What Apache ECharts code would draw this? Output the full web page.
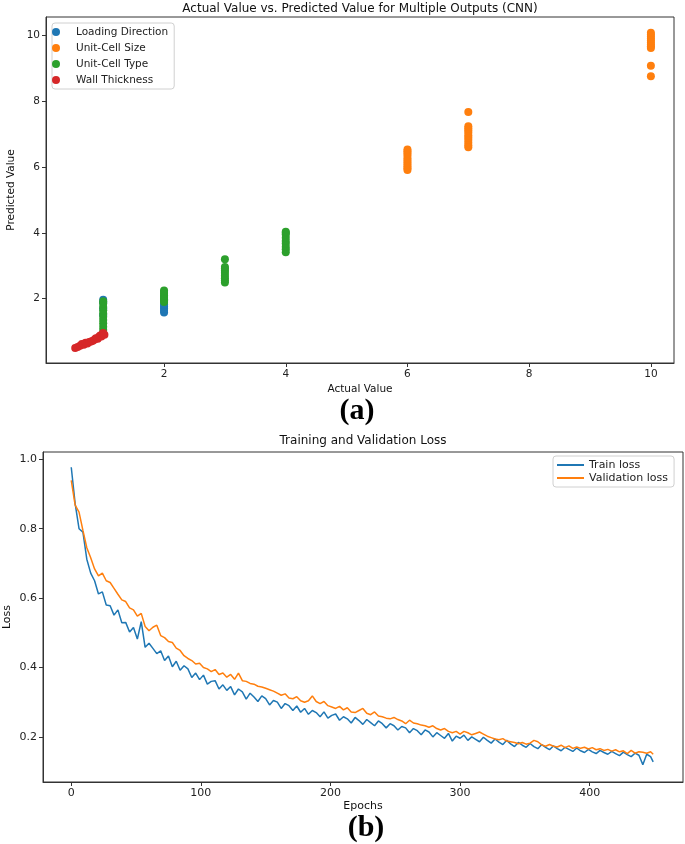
<!DOCTYPE html>
<html>
<head>
<meta charset="utf-8">
<script src="https://cdn.jsdelivr.net/npm/echarts@6/dist/echarts.min.js"></script>
<style>
html,body{margin:0;padding:0;background:#fff;}
#chart{width:685px;height:844px;}
</style>
</head>
<body>
<div id="chart"></div>
<script>
// ---------- Panel (a): scatter data [actual, predicted] ----------
const loadingDirection = [[1,1.97],[1,1.88],[1,1.70],[1,1.50],[2,1.58],[2,1.63],[2,1.70],[2,1.76],[2,1.82],[2,1.90],[2,1.98]];
const unitCellSize = [
  [6,5.91],[6,5.96],[6,6.02],[6,6.08],[6,6.14],[6,6.20],[6,6.27],[6,6.35],[6,6.42],[6,6.48],[6,6.53],
  [7,6.60],[7,6.66],[7,6.74],[7,6.82],[7,6.90],[7,6.97],[7,7.05],[7,7.12],[7,7.18],[7,7.24],[7,7.67],
  [10,8.76],[10,9.08],[10,9.62],[10,9.67],[10,9.72],[10,9.78],[10,9.84],[10,9.90],[10,9.96],[10,10.02],[10,10.08]
];
const unitCellType = [
  [1,0.95],[1,1.05],[1,1.15],[1,1.25],[1,1.35],[1,1.45],[1,1.55],[1,1.65],[1,1.75],[1,1.85],[1,1.92],
  [2,1.90],[2,1.95],[2,2.00],[2,2.05],[2,2.10],[2,2.15],[2,2.20],[2,2.25],
  [3,2.49],[3,2.55],[3,2.62],[3,2.70],[3,2.78],[3,2.85],[3,2.92],[3,2.96],[3,3.20],
  [4,3.41],[4,3.50],[4,3.58],[4,3.68],[4,3.75],[4,3.85],[4,3.95],[4,4.00],[4,4.03]
];
const wallThickness = [
  [0.54,0.50],[0.58,0.53],[0.62,0.57],[0.65,0.62],[0.68,0.60],[0.71,0.66],[0.74,0.64],[0.77,0.68],
  [0.80,0.70],[0.83,0.72],[0.86,0.76],[0.88,0.80],[0.91,0.78],[0.93,0.84],[0.95,0.88],[0.97,0.85],
  [0.99,0.92],[1.00,0.96],[1.02,0.90]
];
const scatterTicks = [2,4,6,8,10];

// ---------- Panel (b): loss curves, sampled every 3 epochs (last = epoch 449) ----------
const trainLoss = [
0.977,0.872,0.800,0.790,0.712,0.672,0.650,0.612,0.618,0.580,
0.578,0.551,0.566,0.529,0.530,0.502,0.515,0.482,0.532,0.458,
0.470,0.455,0.440,0.448,0.420,0.433,0.402,0.418,0.392,0.405,
0.396,0.371,0.384,0.365,0.378,0.352,0.360,0.362,0.338,0.350,
0.334,0.345,0.321,0.338,0.330,0.309,0.326,0.315,0.302,0.318,
0.310,0.292,0.305,0.300,0.282,0.296,0.290,0.276,0.289,0.271,
0.282,0.265,0.276,0.270,0.258,0.272,0.254,0.262,0.266,0.248,
0.258,0.252,0.240,0.256,0.247,0.236,0.250,0.241,0.232,0.246,
0.238,0.226,0.238,0.232,0.220,0.230,0.226,0.212,0.224,0.218,
0.206,0.220,0.214,0.200,0.212,0.204,0.196,0.210,0.188,0.202,
0.196,0.205,0.190,0.200,0.193,0.186,0.199,0.190,0.182,0.194,
0.185,0.178,0.190,0.180,0.172,0.184,0.176,0.170,0.181,0.172,
0.166,0.178,0.170,0.163,0.174,0.166,0.160,0.170,0.164,0.158,
0.168,0.160,0.155,0.164,0.157,0.152,0.161,0.155,0.150,0.158,
0.152,0.146,0.156,0.149,0.143,0.153,0.147,0.120,0.150,0.143,
0.128
];
const valLoss = [
0.939,0.868,0.848,0.795,0.745,0.716,0.684,0.664,0.672,0.650,
0.645,0.628,0.611,0.595,0.590,0.572,0.566,0.548,0.556,0.518,
0.506,0.516,0.522,0.492,0.486,0.475,0.472,0.456,0.449,0.434,
0.426,0.420,0.410,0.412,0.400,0.396,0.388,0.394,0.380,0.384,
0.372,0.380,0.366,0.384,0.362,0.360,0.354,0.352,0.346,0.344,
0.340,0.336,0.332,0.326,0.320,0.324,0.312,0.310,0.316,0.304,
0.300,0.304,0.318,0.302,0.296,0.302,0.290,0.286,0.282,0.288,
0.278,0.284,0.272,0.270,0.276,0.282,0.268,0.264,0.272,0.260,
0.258,0.254,0.252,0.256,0.250,0.246,0.238,0.248,0.240,0.238,
0.234,0.232,0.228,0.232,0.224,0.220,0.224,0.216,0.212,0.216,
0.208,0.216,0.212,0.206,0.210,0.214,0.208,0.202,0.198,0.194,
0.192,0.195,0.188,0.186,0.184,0.180,0.184,0.179,0.182,0.190,
0.186,0.177,0.173,0.178,0.173,0.171,0.176,0.169,0.174,0.167,
0.171,0.167,0.170,0.165,0.169,0.163,0.166,0.161,0.164,0.159,
0.163,0.157,0.160,0.152,0.161,0.153,0.157,0.156,0.153,0.157,
0.150
];
const epochs = trainLoss.map((_, i) => Math.min(i * 3, 449));
const epochTicks = [0,100,200,300,400];
const lossTicks = [0.2,0.4,0.6,0.8,1.0];

const FONT = '"DejaVu Sans", sans-serif';
const AX = '#333';
const C = ['#1f77b4','#ff7f0e','#2ca02c','#d62728'];

function axisCommon(ticks, fmt, fs) {
  return {
    axisLine: {show: true, onZero: false, lineStyle: {color: AX, width: 1}},
    axisTick: {show: true, inside: false, length: 4, lineStyle: {color: AX}, customValues: ticks},
    axisLabel: {show: true, customValues: ticks, color: '#222', fontFamily: FONT, fontSize: fs, margin: 6, formatter: fmt},
    splitLine: {show: false}
  };
}

const chart = echarts.init(document.getElementById('chart'), null, {renderer: 'canvas'});
const scatterNames = ['Loading Direction','Unit-Cell Size','Unit-Cell Type','Wall Thickness'];
const scatterData = [loadingDirection, unitCellSize, unitCellType, wallThickness];

const option = {
  animation: false,
  backgroundColor: '#fff',
  grid: [
    {left: 46, top: 17, width: 628, height: 346, show: true, borderColor: AX, borderWidth: 1, backgroundColor: 'transparent'},
    {left: 43, top: 452, width: 640, height: 330, show: true, borderColor: AX, borderWidth: 1, backgroundColor: 'transparent'}
  ],
  xAxis: [
    Object.assign({type: 'value', gridIndex: 0, min: 0.06, max: 10.38}, axisCommon(scatterTicks, v => String(v), 10.5)),
    Object.assign({type: 'value', gridIndex: 1, min: -21.8, max: 472}, axisCommon(epochTicks, v => String(v), 11))
  ],
  yAxis: [
    Object.assign({type: 'value', gridIndex: 0, min: 0.045, max: 10.56}, axisCommon(scatterTicks, v => String(v), 10.5)),
    Object.assign({type: 'value', gridIndex: 1, min: 0.070, max: 1.021}, axisCommon(lossTicks, v => v.toFixed(1), 11))
  ],
  legend: [
    {
      data: scatterNames, orient: 'vertical', left: 52, top: 23,
      padding: [3, 6, 3, 0], itemWidth: 30, itemHeight: 8, itemGap: 4,
      borderColor: '#d0d0d0', borderWidth: 1, borderRadius: 3, backgroundColor: '#fff',
      textStyle: {fontFamily: FONT, fontSize: 10.5, color: '#222', lineHeight: 12},
      selectedMode: false
    },
    {
      data: ['Train loss','Validation loss'], orient: 'vertical', left: 553, top: 456,
      padding: [3, 6, 3, 4], itemWidth: 27, itemHeight: 2, itemGap: 1, icon: 'rect',
      borderColor: '#d0d0d0', borderWidth: 1, borderRadius: 3, backgroundColor: '#fff',
      textStyle: {fontFamily: FONT, fontSize: 11, color: '#222', lineHeight: 12},
      selectedMode: false
    }
  ],
  series: scatterData.map((d, i) => ({
    name: scatterNames[i], type: 'scatter', xAxisIndex: 0, yAxisIndex: 0,
    data: d, symbol: 'circle', symbolSize: 8,
    itemStyle: {color: C[i], opacity: 1}
  })).concat([
    {
      name: 'Train loss', type: 'line', xAxisIndex: 1, yAxisIndex: 1,
      data: epochs.map((e, i) => [e, trainLoss[i]]), symbol: 'none', smooth: false,
      lineStyle: {color: C[0], width: 1.5}, itemStyle: {color: C[0]}
    },
    {
      name: 'Validation loss', type: 'line', xAxisIndex: 1, yAxisIndex: 1,
      data: epochs.map((e, i) => [e, valLoss[i]]), symbol: 'none', smooth: false,
      lineStyle: {color: C[1], width: 1.5}, itemStyle: {color: C[1]}
    }
  ]),
  graphic: [
    {type: 'text', x: 360, y: 9, style: {text: 'Actual Value vs. Predicted Value for Multiple Outputs (CNN)', font: '12px ' + FONT, fill: '#111', align: 'center', verticalAlign: 'middle'}},
    {type: 'text', x: 11, y: 190, rotation: Math.PI / 2, style: {text: 'Predicted Value', font: '10.5px ' + FONT, fill: '#111', align: 'center', verticalAlign: 'middle'}},
    {type: 'text', x: 360, y: 389, style: {text: 'Actual Value', font: '10.5px ' + FONT, fill: '#111', align: 'center', verticalAlign: 'middle'}},
    {type: 'text', x: 357, y: 411, style: {text: '(a)', font: 'bold 30px "Liberation Serif", serif', fill: '#000', align: 'center', verticalAlign: 'middle'}},
    {type: 'text', x: 363, y: 441, style: {text: 'Training and Validation Loss', font: '12px ' + FONT, fill: '#111', align: 'center', verticalAlign: 'middle'}},
    {type: 'text', x: 7, y: 617, rotation: Math.PI / 2, style: {text: 'Loss', font: '11px ' + FONT, fill: '#111', align: 'center', verticalAlign: 'middle'}},
    {type: 'text', x: 363, y: 806, style: {text: 'Epochs', font: '11px ' + FONT, fill: '#111', align: 'center', verticalAlign: 'middle'}},
    {type: 'text', x: 366, y: 828, style: {text: '(b)', font: 'bold 30px "Liberation Serif", serif', fill: '#000', align: 'center', verticalAlign: 'middle'}}
  ]
};
chart.setOption(option);
</script>
</body>
</html>
